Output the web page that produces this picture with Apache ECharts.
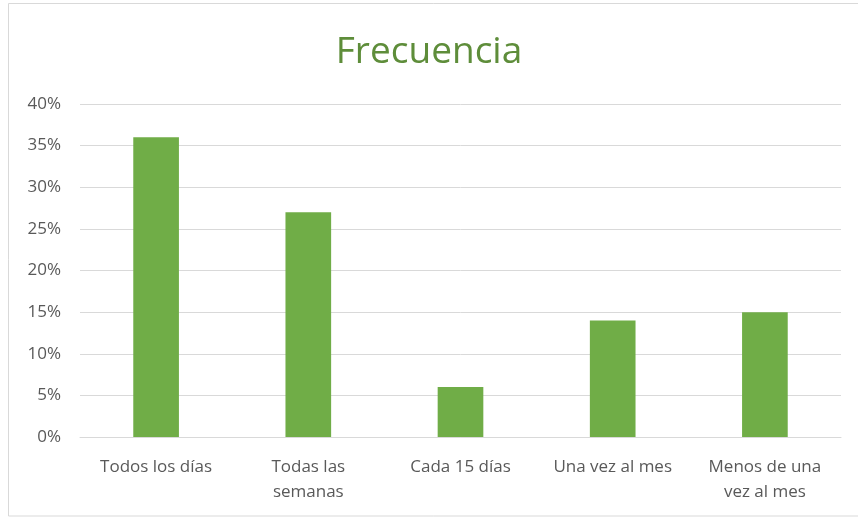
<!DOCTYPE html>
<html>
<head>
<meta charset="utf-8">
<script src="https://cdn.jsdelivr.net/npm/echarts@6/dist/echarts.min.js"></script>
<style>
  html, body { margin: 0; padding: 0; background: #ffffff; }
  #chart { width: 858px; height: 518px; }
</style>
</head>
<body>
<div id="chart"></div>
<script>
// Frequency categories and their share of responses (percent)
const categories = ['Todos los días', 'Todas las\nsemanas', 'Cada 15 días', 'Una vez al mes', 'Menos de una\nvez al mes'];
const shares = [36, 27, 6, 14, 15];
const chartTitle = 'Frecuencia';

const chart = echarts.init(document.getElementById('chart'), null, { renderer: 'canvas' });
const font = '"Open Sans", sans-serif';

chart.setOption({
  backgroundColor: '#ffffff',
  animation: false,
  graphic: [{
    type: 'rect',
    shape: { x: 8.5, y: 3.5, width: 870, height: 512.5 },
    style: { fill: 'none', stroke: '#d9d9d9', lineWidth: 1 },
    silent: true
  }],
  title: {
    text: chartTitle,
    left: 'center',
    top: 34,
    padding: [0, 0, 0, 26],
    textStyle: { color: '#5e8d3a', fontSize: 37, fontWeight: 'normal', fontFamily: font }
  },
  grid: { left: 80, right: 17, top: 104, bottom: 81 },
  xAxis: {
    type: 'category',
    data: categories,
    axisLine: { show: true, lineStyle: { color: '#d9d9d9', width: 1 } },
    axisTick: { show: false },
    axisLabel: {
      color: '#595959', fontSize: 17, fontFamily: font,
      margin: 18, lineHeight: 25, interval: 0
    }
  },
  yAxis: {
    type: 'value',
    min: 0, max: 40, interval: 5,
    axisLine: { show: false },
    axisTick: { show: false },
    splitLine: { lineStyle: { color: '#d9d9d9', width: 1 } },
    axisLabel: {
      color: '#595959', fontSize: 17, fontFamily: font, margin: 19,
      formatter: v => v + '%'
    }
  },
  series: [{
    type: 'bar',
    data: shares,
    barWidth: '30%',
    itemStyle: { color: '#70ad47' }
  }]
});
</script>
</body>
</html>
